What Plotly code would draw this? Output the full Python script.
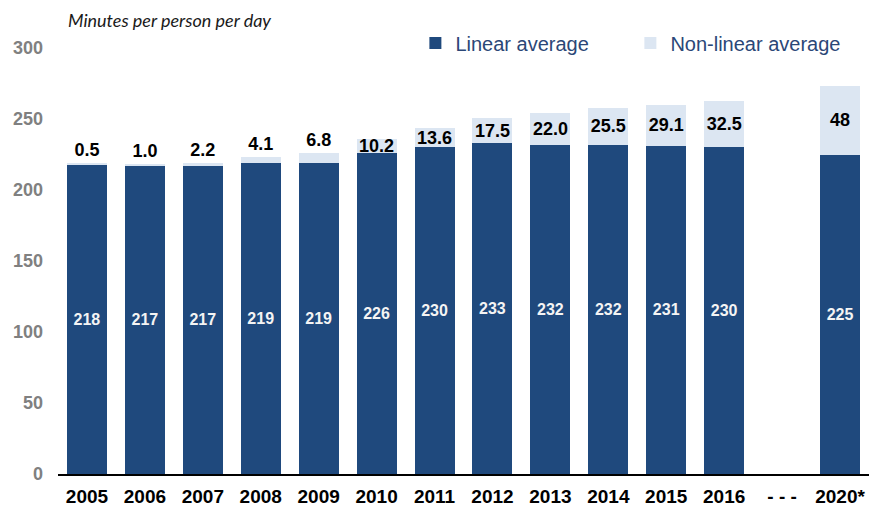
import plotly.graph_objects as go

categories = ["2005", "2006", "2007", "2008", "2009", "2010", "2011", "2012",
              "2013", "2014", "2015", "2016", "- - -", "2020*"]
linear_avg = [218, 217, 217, 219, 219, 226, 230, 233, 232, 232, 231, 230, None, 225]
nonlinear_avg = [0.5, 1.0, 2.2, 4.1, 6.8, 10.2, 13.6, 17.5, 22.0, 25.5, 29.1, 32.5, None, 48]
nonlinear_labels = ["0.5", "1.0", "2.2", "4.1", "6.8", "10.2", "13.6", "17.5",
                    "22.0", "25.5", "29.1", "32.5", "", "48"]
linear_labels = ["" if v is None else str(v) for v in linear_avg]
y_ticks = [0, 50, 100, 150, 200, 250, 300]

DARK = "#1F497D"
LIGHT = "#DCE6F2"
SANS = "Liberation Sans, Arial, sans-serif"

nl_positions = ["outside" if (v is not None and v < 8) else "inside" for v in nonlinear_avg]

fig = go.Figure()
fig.add_trace(go.Bar(
    x=categories, y=linear_avg, name="Linear average",
    marker=dict(color=DARK, line=dict(width=0)),
    text=linear_labels, textposition="inside", insidetextanchor="middle",
    textangle=0, constraintext="none",
    insidetextfont=dict(color="#F4F4F4", size=16, family=SANS, weight="bold"),
    hoverinfo="skip",
))
fig.add_trace(go.Bar(
    x=categories, y=nonlinear_avg, name="Non-linear average",
    marker=dict(color=LIGHT, line=dict(width=0)),
    text=nonlinear_labels, textposition=nl_positions, insidetextanchor="middle",
    textangle=0, constraintext="none",
    textfont=dict(color="black", size=18, family=SANS, weight="bold"),
    insidetextfont=dict(color="black", size=18, family=SANS, weight="bold"),
    outsidetextfont=dict(color="black", size=18, family=SANS, weight="bold"),
    cliponaxis=False,
    hoverinfo="skip",
))

fig.update_layout(
    width=869, height=508,
    barmode="stack", bargap=0.31,
    plot_bgcolor="white", paper_bgcolor="white",
    margin=dict(l=58, r=0, t=48, b=34, autoexpand=False),
    font=dict(family=SANS),
    showlegend=True,
    legend=dict(
        orientation="h", xref="container", yref="container",
        x=0.478, xanchor="left", y=1 - 43 / 508, yanchor="middle",
        font=dict(size=20, color="#2B4777", family=SANS),
        traceorder="normal", entrywidth=170, entrywidthmode="pixels",
        bgcolor="rgba(0,0,0,0)",
    ),
    xaxis=dict(
        type="category", categoryorder="array", categoryarray=categories,
        range=[-0.5, 13.5], showline=True, linecolor="black", linewidth=2,
        ticks="", showgrid=False, zeroline=False, automargin=False,
        ticklabelstandoff=4,
        tickfont=dict(size=19, color="black", family=SANS, weight="bold"),
    ),
    yaxis=dict(
        range=[0, 300], tickvals=y_ticks, showgrid=False, zeroline=False,
        showline=False, ticks="", ticklabelstandoff=14, automargin=False,
        tickfont=dict(size=18, color="#808080", family=SANS, weight="bold"),
    ),
    annotations=[dict(
        text="<i>Minutes per person per day</i>", xref="paper", yref="paper",
        x=0.0, xanchor="left", xshift=8, y=(474 - 20) / 426, yanchor="middle",
        showarrow=False, font=dict(size=18, color="#1a1a1a", family="Lato, Calibri, sans-serif"),
    )],
)

fig.write_html(
    "out.html",
    config={"displayModeBar": False},
    post_script="document.body.style.margin='0';document.body.style.padding='0';document.body.style.overflow='hidden';",
)
